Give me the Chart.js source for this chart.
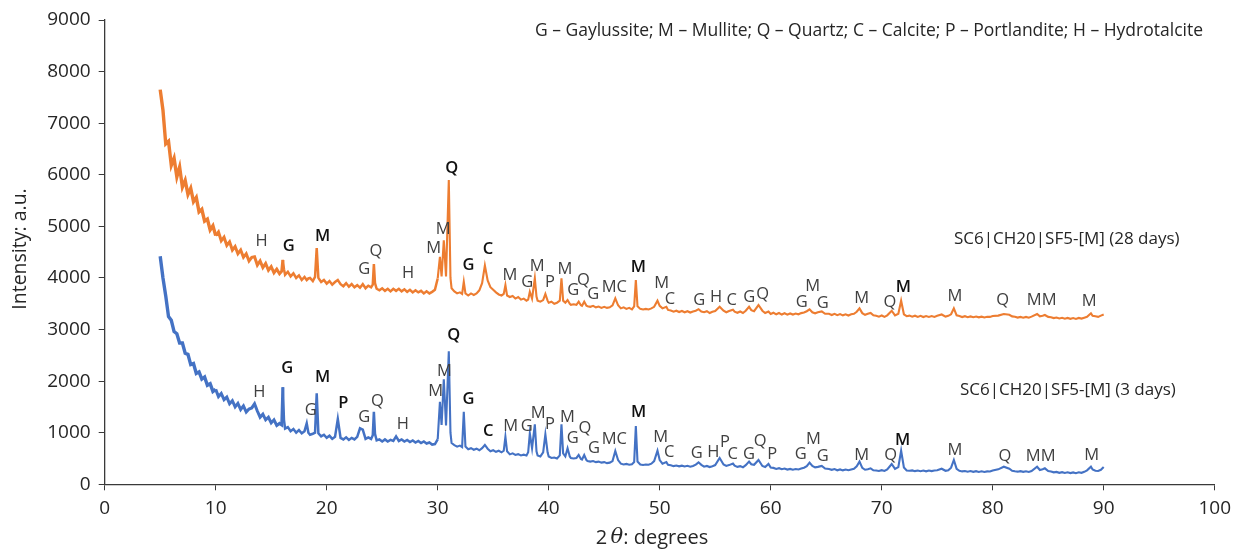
<!DOCTYPE html>
<html>
<head>
<meta charset="utf-8">
<script src="https://cdn.jsdelivr.net/npm/chart.js@4.4.1/dist/chart.umd.min.js"></script>
<style>
  html, body { margin: 0; padding: 0; background: #ffffff; }
  #wrap { width: 1242px; height: 551px; position: relative; }
</style>
</head>
<body>
<div id="wrap"><canvas id="xrd" width="1242" height="551"></canvas></div>
<script>
// Diffraction angle (2θ, degrees) shared by both scans
const twoTheta = [
  5.00,5.25,5.50,5.75,6.00,6.25,6.50,6.75,7.00,7.25,
  7.50,7.75,8.00,8.25,8.50,8.75,9.00,9.25,9.50,9.75,
  10.00,10.25,10.50,10.75,11.00,11.25,11.50,11.75,12.00,12.25,
  12.50,12.75,13.00,13.25,13.50,13.75,14.00,14.25,14.50,14.75,
  15.00,15.25,15.50,15.75,15.95,16.05,16.15,
  16.25,16.50,16.75,17.00,17.25,17.50,17.75,18.00,18.20,18.35,
  18.50,18.75,18.95,19.10,19.25,19.50,19.75,20.00,20.25,20.50,
  20.75,21.00,21.25,21.50,21.75,22.00,22.25,22.50,22.75,23.00,
  23.25,23.50,23.75,24.00,24.15,24.25,24.35,24.50,24.75,25.00,
  25.25,25.50,25.75,26.00,26.25,26.50,26.75,27.00,27.25,27.50,
  27.75,28.00,28.25,28.50,28.75,29.00,29.25,29.50,29.75,30.00,
  30.20,30.35,30.55,30.75,31.00,31.15,31.25,
  31.50,31.75,32.00,32.20,32.35,32.50,32.75,33.00,33.25,33.50,
  33.75,34.00,34.25,34.50,34.75,35.00,35.25,35.50,35.75,35.95,
  36.10,36.25,36.50,36.75,37.00,37.25,37.50,37.75,38.00,38.15,
  38.30,38.50,38.75,38.90,39.00,39.25,39.50,39.70,39.90,40.00,
  40.25,40.50,40.75,41.00,41.15,41.30,41.50,41.70,41.90,42.00,
  42.25,42.50,42.70,42.90,43.00,43.20,43.40,43.50,43.75,44.00,
  44.25,44.50,44.75,45.00,45.25,45.50,45.75,46.00,46.25,46.50,
  46.75,47.00,47.25,47.50,47.70,47.85,48.00,48.25,48.50,48.75,
  49.00,49.25,49.50,49.80,50.00,50.25,50.60,50.75,
  51.00,51.25,51.50,51.75,52.00,52.25,52.50,52.75,53.00,53.25,
  53.50,53.75,54.00,54.25,54.50,54.75,55.00,55.40,55.75,56.00,
  56.25,56.60,56.75,57.00,57.25,57.50,57.75,58.05,58.25,58.50,
  58.90,59.25,59.50,59.80,60.00,60.25,60.50,60.75,61.00,61.25,
  61.50,61.75,62.00,62.25,62.50,62.75,63.00,63.25,63.50,63.75,
  64.00,64.25,64.60,64.90,65.25,65.50,65.75,66.00,66.25,66.50,
  66.75,67.00,67.25,67.50,67.75,68.00,68.25,68.50,68.75,69.00,
  69.25,69.50,69.75,70.00,70.25,70.50,70.90,71.20,71.50,71.75,
  72.00,72.25,72.50,72.75,73.00,73.25,73.50,73.75,74.00,74.25,
  74.50,74.75,75.00,75.40,75.75,76.00,76.25,76.50,76.75,77.00,
  77.25,77.50,77.75,78.00,78.25,78.50,78.75,79.00,79.25,79.50,
  79.75,80.00,80.50,81.00,81.50,81.75,82.00,82.25,82.50,82.75,
  83.00,83.25,83.50,84.00,84.25,84.50,84.70,85.00,85.25,85.50,
  85.75,86.00,86.25,86.50,86.75,87.00,87.25,87.50,87.75,88.00,
  88.25,88.50,88.85,89.00,89.25,89.50,89.75,90.00
];

// Intensity, SC6|CH20|SF5-[M] after 28 days
const counts28d = [
  7650,7250,6600,6650,6180,6320,5960,6150,5760,5890,
  5620,5740,5480,5560,5280,5330,5100,5140,4930,5010,
  4820,4890,4720,4790,4630,4700,4540,4610,4470,4540,
  4400,4470,4330,4400,4410,4250,4330,4200,4280,4150,
  4220,4100,4170,4080,4130,4350,4170,
  4060,4120,4030,4090,4000,4050,3960,4020,3960,3990,
  4000,3940,4020,4580,4000,3920,3960,3890,3940,3870,
  3920,3960,3880,3840,3900,3830,3880,3820,3860,3810,
  3880,3800,3850,3820,3870,4270,3900,3790,3760,3800,
  3750,3790,3740,3790,3750,3790,3740,3780,3730,3770,
  3720,3760,3720,3750,3700,3740,3700,3730,3770,3990,
  4410,4030,4730,4030,5900,4000,3800,
  3740,3700,3720,3690,3926,3700,3660,3700,3670,3700,
  3760,3900,4240,3950,3820,3770,3720,3680,3660,3690,
  3862,3660,3630,3650,3600,3630,3580,3600,3560,3580,
  3733,3600,3992,3640,3560,3540,3570,3688,3560,3520,
  3540,3500,3520,3560,3992,3560,3520,3572,3500,3480,
  3490,3480,3540,3470,3460,3540,3460,3450,3440,3460,
  3430,3445,3420,3440,3420,3430,3470,3604,3470,3410,
  3430,3400,3420,3390,3450,3960,3450,3400,3390,3400,
  3390,3410,3440,3558,3460,3410,3442,3380,
  3370,3345,3365,3340,3360,3335,3355,3330,3350,3365,
  3395,3350,3335,3355,3320,3345,3360,3442,3365,3335,
  3360,3385,3345,3325,3350,3320,3365,3442,3375,3355,
  3475,3365,3320,3350,3300,3325,3295,3320,3290,3315,
  3288,3312,3290,3310,3295,3318,3330,3355,3392,3335,
  3315,3335,3352,3305,3305,3282,3305,3278,3300,3275,
  3295,3272,3295,3305,3345,3410,3318,3285,3305,3322,
  3275,3268,3250,3272,3245,3275,3364,3275,3305,3558,
  3295,3258,3270,3250,3268,3245,3265,3242,3262,3245,
  3262,3245,3268,3292,3250,3265,3295,3410,3275,3262,
  3242,3258,3240,3255,3238,3252,3236,3250,3235,3248,
  3245,3262,3270,3302,3285,3255,3248,3232,3245,3230,
  3245,3230,3250,3302,3255,3268,3282,3245,3238,3222,
  3232,3215,3228,3210,3225,3208,3222,3206,3225,3212,
  3230,3248,3314,3265,3258,3245,3270,3292
];

// Intensity, SC6|CH20|SF5-[M] after 3 days
const counts3d = [
  4420,4000,3650,3250,3180,2960,2920,2740,2740,2540,
  2520,2320,2340,2150,2180,2040,2080,1920,1950,1800,
  1840,1700,1760,1640,1690,1560,1620,1500,1570,1450,
  1520,1400,1460,1480,1560,1420,1300,1360,1250,1300,
  1190,1250,1140,1180,1150,1880,1250,
  1080,1110,1030,1070,1000,1050,990,1030,1182,1000,
  960,980,1000,1764,990,930,960,900,940,880,
  920,1265,900,870,910,860,900,870,920,1085,
  1060,880,910,880,950,1407,980,850,870,830,
  870,830,860,840,930,840,870,830,860,820,
  850,810,840,800,830,790,810,770,780,870,
  1600,1150,2035,1140,2580,1000,800,
  760,730,750,720,1407,730,680,700,670,690,
  660,700,762,690,640,660,630,650,620,650,
  922,640,580,600,570,585,560,575,560,620,
  988,700,1163,640,560,540,620,969,620,540,
  510,520,500,560,1163,600,540,698,540,510,
  500,510,568,490,480,568,470,450,440,450,
  430,440,420,430,410,420,450,645,470,400,
  385,395,380,390,430,1130,440,385,375,385,
  380,400,450,651,470,400,430,380,
  370,352,365,348,362,345,358,342,355,382,
  426,378,342,356,335,352,372,510,385,355,
  372,402,360,338,352,330,372,440,388,378,
  471,355,335,394,325,318,298,312,292,305,
  285,298,282,296,288,305,322,352,420,355,
  328,338,355,305,298,280,295,272,288,270,
  285,272,288,302,350,440,318,282,292,310,
  272,266,258,274,258,288,394,298,332,651,
  325,266,262,270,255,268,254,266,252,268,
  256,268,272,302,262,274,322,471,298,262,
  250,258,245,256,242,254,240,252,238,250,
  248,268,290,341,302,262,252,245,255,242,
  252,240,258,341,278,292,310,258,248,232,
  240,222,235,220,232,218,230,216,232,222,
  242,270,341,288,262,258,282,335
];

// Axis tick values
const angleTicks = [0, 10, 20, 30, 40, 50, 60, 70, 80, 90, 100];
const intensityTicks = [0, 1000, 2000, 3000, 4000, 5000, 6000, 7000, 8000, 9000];

// Phase tags above the 28-day scan: letter, 2θ and intensity where the tag sits
const tags28 = ['H','G','M','G','Q','H','M','M','Q','G','C','M','G','M','P','M','G','Q','G','MC',
  'M','M','C','G','H','C','G','Q','G','M','G','M','Q','M','M','Q','MM','M'];
const tagAngle28 = [14.14,16.58,19.64,23.38,24.44,27.34,29.64,30.50,31.27,32.77,34.53,36.51,38.07,38.97,40.12,41.47,42.22,43.12,44.02,45.91,
  48.07,50.18,50.93,53.57,55.07,56.49,58.07,59.28,62.79,63.78,64.68,68.20,70.75,71.95,76.60,80.90,84.41,88.68];
const tagLevel28 = [4702,4605,4812,4167,4508,4081,4574,4948,6124,4250,4547,4056,3907,4231,3907,4167,3752,3946,3688,3818,
  4205,3895,3591,3572,3616,3572,3616,3682,3519,3830,3508,3605,3519,3818,3649,3558,3558,3539];
const strongTags28 = [1, 2, 8, 9, 10, 20, 33];

// Phase tags above the 3-day scan
const tags3 = ['H','G','G','M','P','G','Q','H','M','M','Q','G','C','M','G','M','P','M','G','Q','G','MC',
  'M','M','C','G','H','P','C','G','Q','P','G','M','G','M','Q','M','M','Q','MM','M'];
const tagAngle3 = [13.93,16.45,18.56,19.64,21.50,23.38,24.56,26.87,29.82,30.61,31.45,32.77,34.56,36.58,38.02,39.06,40.12,41.68,42.16,43.27,44.08,45.91,
  48.11,50.09,50.86,53.33,54.83,55.88,56.58,58.05,59.04,60.14,62.70,63.84,64.68,68.20,70.81,71.89,76.60,81.11,84.32,88.92];
const tagLevel3 = [1775,2248,1426,2080,1562,1298,1601,1169,1795,2182,2884,1643,1019,1116,1116,1376,1169,1298,891,1085,698,872,
  1388,911,612,601,612,806,587,587,826,587,587,882,548,568,568,845,651,535,535,568];
const strongTags3 = [1, 3, 4, 10, 11, 12, 22, 37];

const seriesNames = ['SC6|CH20|SF5-[M] (28 days)', 'SC6|CH20|SF5-[M] (3 days)'];
const phaseKey = 'G \u2013 Gaylussite; M \u2013 Mullite; Q \u2013 Quartz; C \u2013 Calcite; P \u2013 Portlandite; H \u2013 Hydrotalcite';

const FONT = '"Open Sans", "Noto Sans", sans-serif';
const AXIS_COLOR = '#3a3a3a';
const TEXT_COLOR = '#262626';

function toPoints(ys) {
  return twoTheta.map((t, i) => ({ x: t, y: ys[i] }));
}

// the scans are noisier at low angle, so the trace is drawn heavier there
function traceWidth(ctx) {
  const a = ctx.p0.parsed.x;
  if (a < 10) return 3.4;
  if (a < 16) return 3.0;
  if (a < 30) return 2.5;
  return 2.1;
}

// Draws the phase tags, the series names, the phase key and both axis titles
const textLayer = {
  id: 'textLayer',
  afterDatasetsDraw(chart) {
    const { ctx, scales } = chart;
    const xs = scales.x, ys = scales.y;
    ctx.save();
    ctx.textAlign = 'center';
    ctx.textBaseline = 'middle';
    const drawTags = (tags, angles, levels, strong) => {
      tags.forEach((t, i) => {
        const bold = strong.includes(i);
        ctx.font = (bold ? '600 ' : '400 ') + '16.5px ' + FONT;
        ctx.fillStyle = bold ? '#111111' : '#404040';
        ctx.fillText(t, xs.getPixelForValue(angles[i]), ys.getPixelForValue(levels[i]));
      });
    };
    drawTags(tags28, tagAngle28, tagLevel28, strongTags28);
    drawTags(tags3, tagAngle3, tagLevel3, strongTags3);

    // series names beside each scan
    ctx.textAlign = 'left';
    ctx.fillStyle = TEXT_COLOR;
    ctx.font = '400 17px ' + FONT;
    ctx.fillText(seriesNames[0], 954, 239);
    ctx.fillText(seriesNames[1], 960, 390);

    // phase key
    ctx.font = '400 17.5px ' + FONT;
    const keyW = ctx.measureText(phaseKey).width;
    ctx.fillText(phaseKey, 1203 - keyW, 31);

    // y-axis title
    ctx.save();
    ctx.translate(20, 249);
    ctx.rotate(-Math.PI / 2);
    ctx.textAlign = 'center';
    ctx.font = '400 19.5px ' + FONT;
    ctx.fillText('Intensity: a.u.', 0, 0);
    ctx.restore();

    // x-axis title with italic theta
    const parts = [
      { t: '2\u2009', f: '400 20px ' + FONT },
      { t: '\u03B8', f: 'italic 400 21px "DejaVu Serif", serif' },
      { t: ': degrees', f: '400 20px ' + FONT }
    ];
    let total = 0;
    parts.forEach(p => { ctx.font = p.f; p.w = ctx.measureText(p.t).width; total += p.w; });
    let x = 652 - total / 2;
    ctx.textAlign = 'left';
    parts.forEach(p => { ctx.font = p.f; ctx.fillText(p.t, x, 538); x += p.w; });
    ctx.restore();
  }
};

new Chart(document.getElementById('xrd'), {
  type: 'line',
  data: {
    datasets: [
      {
        label: seriesNames[0],
        data: toPoints(counts28d),
        borderColor: '#ED7D31',
        borderWidth: 2.1,
        segment: { borderWidth: traceWidth },
        pointRadius: 0,
        tension: 0,
        fill: false
      },
      {
        label: seriesNames[1],
        data: toPoints(counts3d),
        borderColor: '#4472C4',
        borderWidth: 2.1,
        segment: { borderWidth: traceWidth },
        pointRadius: 0,
        tension: 0,
        fill: false
      }
    ]
  },
  options: {
    responsive: false,
    animation: false,
    devicePixelRatio: 1,
    parsing: false,
    normalized: true,
    layout: { padding: { left: 0, right: 27.3, top: 20, bottom: 0 } },
    plugins: { legend: { display: false }, tooltip: { enabled: false } },
    scales: {
      x: {
        type: 'linear',
        min: 0,
        max: 100,
        afterBuildTicks(scale) { scale.ticks = angleTicks.map(v => ({ value: v })); },
        afterFit(scale) { scale.height = 66.7; },
        grid: { display: true, drawOnChartArea: false, drawTicks: true, tickLength: 6, color: AXIS_COLOR, lineWidth: 1 },
        border: { display: true, color: AXIS_COLOR, width: 1.3 },
        ticks: { color: TEXT_COLOR, font: { family: FONT, size: 19 }, padding: 7, maxRotation: 0, autoSkip: false,
                 callback: v => String(v) }
      },
      y: {
        type: 'linear',
        min: 0,
        max: 9000,
        afterBuildTicks(scale) { scale.ticks = intensityTicks.map(v => ({ value: v })); },
        afterFit(scale) { scale.width = 104.7; },
        grid: { display: true, drawOnChartArea: false, drawTicks: true, tickLength: 6, color: AXIS_COLOR, lineWidth: 1 },
        border: { display: true, color: AXIS_COLOR, width: 1.3 },
        ticks: { color: TEXT_COLOR, font: { family: FONT, size: 19 }, padding: 8, autoSkip: false,
                 callback: v => String(v) }
      }
    }
  },
  plugins: [textLayer]
});
</script>
</body>
</html>
